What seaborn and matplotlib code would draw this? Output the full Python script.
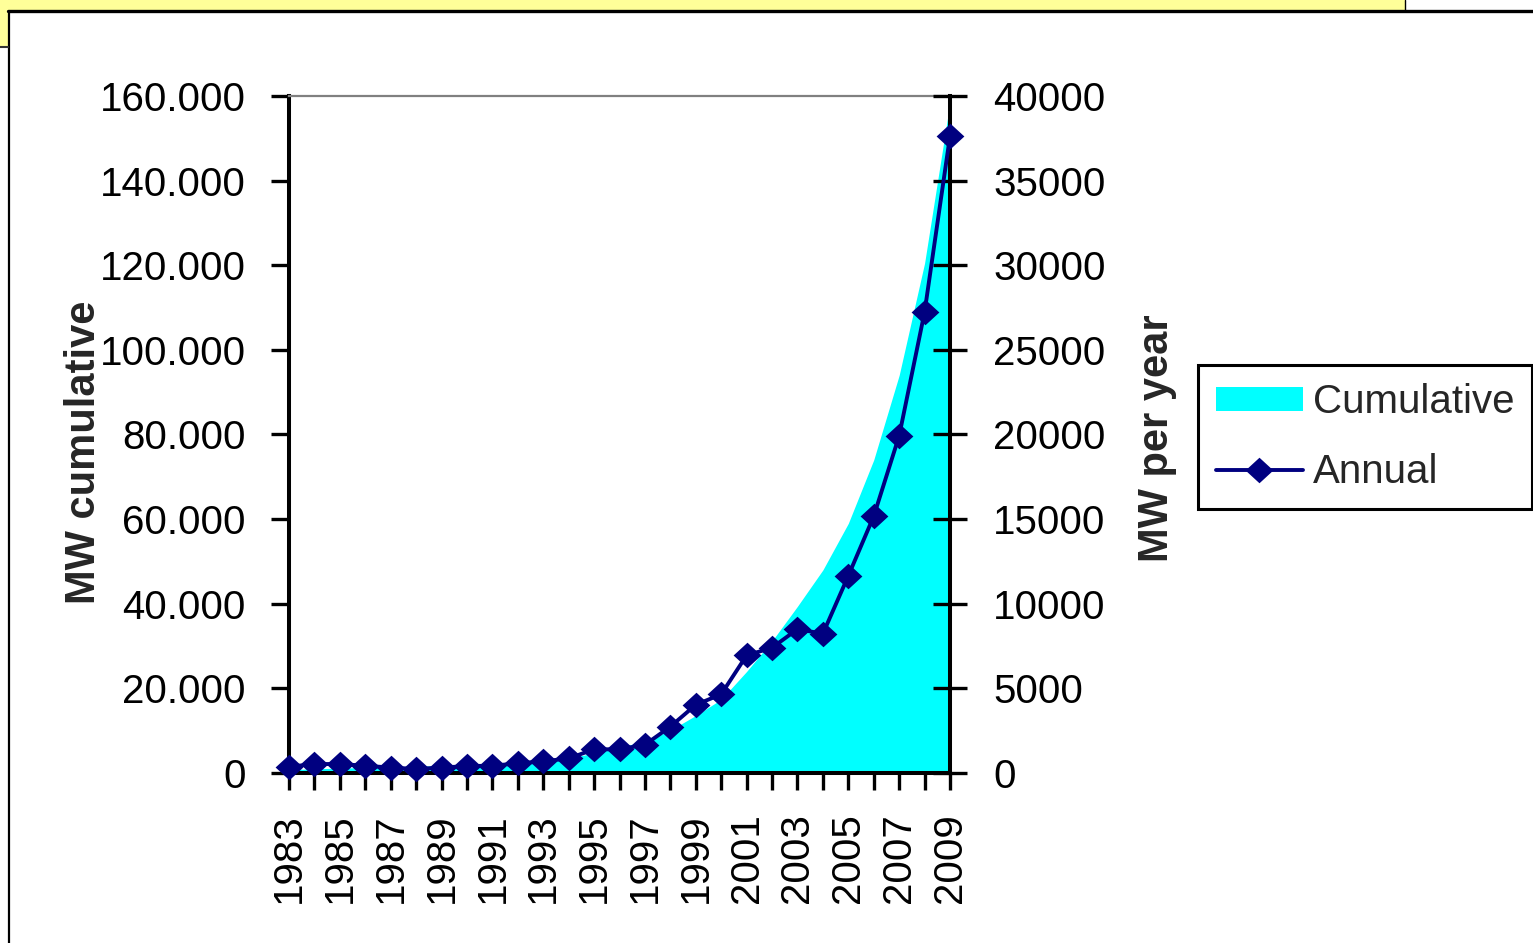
import matplotlib
matplotlib.use('Agg')
import matplotlib.pyplot as plt
import seaborn as sns
import pandas as pd
from matplotlib.patches import Patch, Rectangle
from matplotlib.lines import Line2D
from matplotlib.ticker import FuncFormatter

# ---- data ----
years = list(range(1983, 2010))
cumulative = [800, 1000, 1150, 1300, 1450, 1600, 1750, 1950, 2150, 2450, 2900, 3500,
              4700, 6100, 7500, 10100, 13600, 17400, 24000, 31200, 39400, 48000,
              59000, 74000, 94000, 120500, 158500]
annual = [370, 530, 530, 430, 320, 240, 320, 410, 430, 570, 690, 860,
          1400, 1400, 1670, 2740, 4030, 4650, 6950, 7400, 8500, 8230,
          11650, 15170, 19920, 27230, 37630]
left_ticks = [0, 20000, 40000, 60000, 80000, 100000, 120000, 140000, 160000]
right_ticks = [0, 5000, 10000, 15000, 20000, 25000, 30000, 35000, 40000]
year_labels = [str(y) if (y - 1983) % 2 == 0 else '' for y in years]
series_names = ['Cumulative', 'Annual']
left_title = 'MW cumulative'
right_title = 'MW per year'

sns.set_style('white')
plt.rcParams['font.family'] = ['Liberation Sans', 'DejaVu Sans']

W, H = 1533, 943
fig = plt.figure(figsize=(W / 100, H / 100), dpi=100)

# ---- decorative frame ----
fig.patches.append(Rectangle((0, 1 - 11 / H), 1405 / W, 11 / H, transform=fig.transFigure,
                             facecolor='#FFFF99', edgecolor='none', zorder=0))
fig.patches.append(Rectangle((0, 1 - 46 / H), 9 / W, 46 / H, transform=fig.transFigure,
                             facecolor='#FFFF99', edgecolor='none', zorder=0))
fig.lines.append(Line2D([8 / W, 1], [1 - 11 / H, 1 - 11 / H], transform=fig.transFigure,
                        color='black', lw=2.4))
fig.lines.append(Line2D([9 / W, 9 / W], [1 - 11 / H, 0], transform=fig.transFigure,
                        color='black', lw=1.6))
fig.lines.append(Line2D([1405 / W, 1405 / W], [1, 1 - 11 / H], transform=fig.transFigure,
                        color='black', lw=1.0))
fig.lines.append(Line2D([0, 8 / W], [1 - 47 / H, 1 - 47 / H], transform=fig.transFigure,
                        color='#333333', lw=1.5))

# ---- axes ----
ax = fig.add_axes([289 / W, 1 - 773 / H, (950 - 289) / W, (773 - 96) / H])
ax.fill_between(years, cumulative, 0, color='#00FFFF', linewidth=0, zorder=1)
ax.set_xlim(1983, 2009)
ax.set_ylim(0, 160000)
ax.set_yticks(left_ticks)
ax.yaxis.set_major_formatter(FuncFormatter(lambda v, p: f"{int(v):,}".replace(',', '.')))
ax.set_xticks(years)
ax.set_xticklabels(year_labels, rotation=90)
ax.tick_params(axis='y', direction='out', length=13, width=2.4, pad=18, labelsize=29,
               colors='black', left=True)
ax.tick_params(axis='x', direction='out', length=12, width=2.4, pad=17, labelsize=29,
               colors='black', bottom=True)
for s in ['left', 'bottom']:
    ax.spines[s].set_color('black')
    ax.spines[s].set_linewidth(2.9)
ax.spines['top'].set_color('#808080')
ax.spines['top'].set_linewidth(1.6)
ax.spines['right'].set_visible(False)
ax.set_xlabel('')
ax.set_ylabel('')

ax2 = ax.twinx()
diamond = [(-1, 0), (0, 0.92), (1, 0), (0, -0.92)]
df = pd.DataFrame({'year': years, 'annual': annual})
sns.lineplot(data=df, x='year', y='annual', ax=ax2, color='#000080', linewidth=2.8,
             marker=diamond, markersize=20, markeredgewidth=0, markeredgecolor='#000080',
             errorbar=None, clip_on=False, zorder=5)
ax2.set_ylim(0, 40000)
ax2.set_xlim(1983, 2009)
ax2.set_yticks(right_ticks)
ax2.yaxis.set_major_formatter(FuncFormatter(lambda v, p: f"{int(v)}"))
ax2.tick_params(axis='y', direction='inout', length=24, width=2.4, pad=19, labelsize=29,
                colors='black', right=True)
for s in ['left', 'bottom', 'top']:
    ax2.spines[s].set_visible(False)
ax2.spines['right'].set_color('black')
ax2.spines['right'].set_linewidth(2.9)
ax2.set_xlabel('')
ax2.set_ylabel('')
if ax2.get_legend() is not None:
    ax2.get_legend().remove()

# axis titles
narrow = ['Liberation Sans Narrow', 'Liberation Sans', 'DejaVu Sans']
fig.text(84 / W, 1 - 452 / H, left_title, rotation=90, ha='center', va='center',
         fontsize=30, fontweight='bold', family=narrow)
fig.text(1157 / W, 1 - 438 / H, right_title, rotation=90, ha='center', va='center',
         fontsize=30, fontweight='bold', family=narrow)

# legend
h1 = Patch(facecolor='#00FFFF', edgecolor='none')
h2 = Line2D([], [], color='#000080', lw=2.8, marker=diamond, markersize=20, mew=0)
leg = fig.legend([h1, h2], series_names, loc='upper left',
                 bbox_to_anchor=(1198 / W, 1 - 365 / H), bbox_transform=fig.transFigure,
                 borderaxespad=0, frameon=True, fancybox=False, edgecolor='black',
                 fontsize=29, handlelength=2.15, handleheight=0.55, handletextpad=0.25,
                 labelspacing=0.8, borderpad=0.45)
leg.get_frame().set_linewidth(2.2)
leg.get_frame().set_alpha(None)

fig.savefig('out.png', dpi=100, facecolor='white')
